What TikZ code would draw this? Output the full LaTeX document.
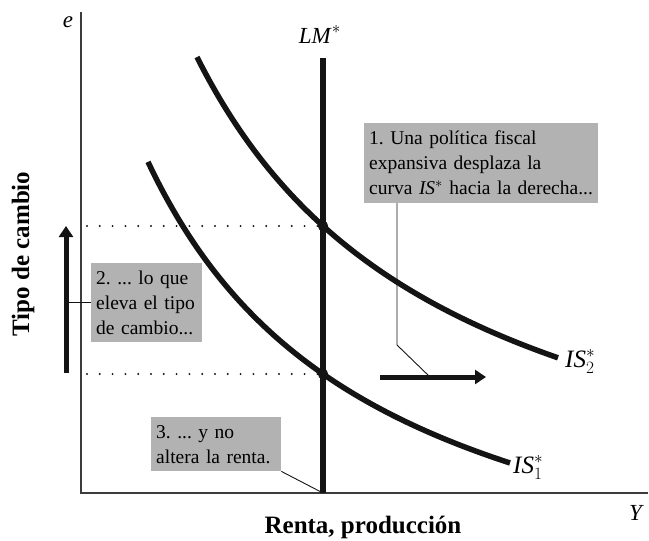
\documentclass[tikz,border=0pt]{standalone}
\usepackage{fontspec}
\setmainfont{Liberation Serif}
\usetikzlibrary{arrows.meta,calc}
\definecolor{boxgray}{RGB}{178,178,178}
\definecolor{axisgray}{RGB}{60,60,60}
\definecolor{ink}{RGB}{20,20,20}
\frenchspacing
\begin{document}
\begin{tikzpicture}[x=1pt,y=-1pt,
  curve/.style={line width=5.5pt,ink},
  axisline/.style={line width=1.3pt,axisgray},
  dotline/.style={line width=2.2pt,line cap=round,dash pattern=on 0pt off 12.8pt,ink},
  bigarrow/.style={line width=5pt,ink,-{Triangle[length=11pt,width=14pt]}},
  leader/.style={line width=0.9pt,ink},
  infobox/.style={fill=boxgray,inner xsep=5pt,inner ysep=0pt,align=left,anchor=north west,
    font=\fontsize{19.5}{25}\selectfont\frenchspacing},
  axislabel/.style={font=\fontsize{25}{28}\selectfont\bfseries},
  curvelabel/.style={font=\fontsize{25}{28}\selectfont,anchor=base west,inner sep=0pt}
]
\useasboundingbox (0,0) rectangle (649,541);
% axes
\coordinate (O) at (81,493);
\coordinate (Ytop) at (81,12);
\coordinate (Xend) at (648,493);
\draw[axisline] (Ytop) -- (O) -- (Xend);
\node[font=\fontsize{23}{26}\selectfont\itshape,inner sep=0pt,anchor=base] (elab) at (68,27) {e};
\node[font=\fontsize{23}{26}\selectfont\itshape,inner sep=0pt,anchor=base west] (Ylab) at (629,520) {Y};
\node[axislabel,inner sep=0pt,anchor=base] (xlab) at (363,533) {Renta, producción};
\node[axislabel,rotate=90,inner sep=0pt] (ylab) at (23,254) {Tipo de cambio};
% LM*
\coordinate (LMtop) at (323,58);
\coordinate (LMbot) at (323,493);
\draw[line width=5.5pt,ink] (LMtop) -- (LMbot);
\node[font=\fontsize{23}{26}\selectfont,inner sep=0pt,anchor=base] (LMlab) at (320,43) {\textit{LM}$^{*}$};
% IS curves
\draw[curve] plot[domain=148:510,samples=90,smooth] (\x,{657.6-1160/((\x+86)/100)});
\draw[curve] plot[domain=197:558,samples=90,smooth] (\x,{574.4-1345/((\x+63)/100)});
\node[curvelabel] (IS1) at (513,473) {\textit{IS}$^{*}_{1}$};
\node[curvelabel] (IS2) at (565,367) {\textit{IS}$^{*}_{2}$};
% equilibria
\coordinate (E2) at (323,226);
\coordinate (E1) at (323,374);
\coordinate (D2) at (87,226);
\coordinate (D1) at (87,374);
\draw[dotline] (D2) -- (E2);
\draw[dotline] (D1) -- (E1);
\fill[ink] (E2) circle (5.2);
\fill[ink] (E1) circle (5.2);
% arrows
\coordinate (UAbot) at (66,373);
\coordinate (UAtop) at (66,226);
\draw[bigarrow] (UAbot) -- (UAtop);
\coordinate (RAstart) at (380,377);
\coordinate (RAend) at (486,377);
\draw[bigarrow] (RAstart) -- (RAend);
% boxes
\node[infobox,text width=224pt,minimum height=80pt] (b1) at (364,123)
  {1. Una política fiscal\\expansiva desplaza la\\curva \textit{IS}$^{*}$ hacia la derecha...};
\node[infobox,text width=101pt,minimum height=79pt] (b2) at (91,263)
  {2. ... lo que\\eleva el tipo\\de cambio...};
\node[infobox,text width=120pt,minimum height=54pt] (b3) at (151,417)
  {3. ... y no\\altera la renta.};
% leaders
\coordinate (L1a) at (397,203);
\coordinate (L1b) at (397,345);
\coordinate (L1c) at (430,377);
\draw[leader] (L1a) -- (L1b) -- (L1c);
\draw[leader] (b2.west) -- (UAbot |- b2.west);
\draw[leader] (b3.south east) -- (LMbot);
\end{tikzpicture}
\end{document}
